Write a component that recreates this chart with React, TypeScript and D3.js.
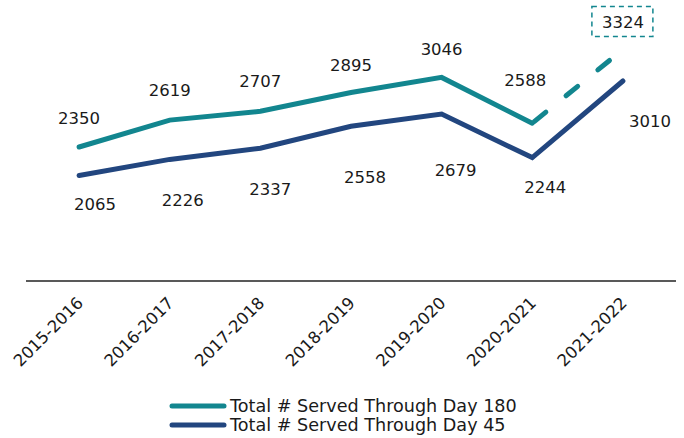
import React from "react";
import * as d3 from "d3";

const categories = ["2015-2016", "2016-2017", "2017-2018", "2018-2019", "2019-2020", "2020-2021", "2021-2022"];
const day180 = [2350, 2619, 2707, 2895, 3046, 2588, 3324];
const day45 = [2065, 2226, 2337, 2558, 2679, 2244, 3010];
const seriesNames = ["Total # Served Through Day 180", "Total # Served Through Day 45"];

const W = 684;
const H = 438;
const TEAL = "#12868f";
const NAVY = "#22467f";
const FONT = "'DejaVu Sans', sans-serif";

// label offsets (styling) relative to each point
const tealOff = [[0, -23], [0, -24], [0, -24], [0, -22], [0, -22], [-7, -37], [0, 0]];
const navyOff = [[16, 34], [13, 47], [10, 47], [14, 57], [14, 62], [13, 35], [27, 46]];

export default function App() {
  const x = d3.scalePoint<string>().domain(categories).range([26, 676]).padding(0.586);
  const y = d3.scaleLinear().domain([1000, 3500]).range([282, 32]);
  const line = d3.line<number>().x((_, i) => x(categories[i])!).y((v) => y(v));

  const tealSolid = line(day180.slice(0, 6))!;
  const lastA = day180[5];
  const lastB = day180[6];
  const dashPath = `M${x(categories[5])},${y(lastA)}L${x(categories[6])},${y(lastB)}`;
  const navyPath = line(day45)!;

  const lx = x(categories[6])!;
  const ly = y(day180[6]);

  return (
    <svg width={W} height={H} style={{ position: "absolute", left: 0, top: 0, background: "#fff" }} fontFamily={FONT}>
      <line x1={26} x2={676} y1={281} y2={281} stroke="#222" strokeWidth={1.6} />
      <path d={tealSolid} fill="none" stroke={TEAL} strokeWidth={5} strokeLinecap="round" strokeLinejoin="miter" />
      <path d={dashPath} fill="none" stroke={TEAL} strokeWidth={5} strokeLinecap="round" strokeDasharray="15,26" strokeDashoffset={-2.5} />
      <path d={navyPath} fill="none" stroke={NAVY} strokeWidth={5} strokeLinecap="round" strokeLinejoin="miter" />

      {day180.map((v, i) =>
        i < 6 ? (
          <text key={"t" + i} x={x(categories[i])! + tealOff[i][0]} y={y(v) + tealOff[i][1]} textAnchor="middle" fontSize={16.5} fill="#1a1a1a">
            {v}
          </text>
        ) : null
      )}
      <rect x={lx - 31} y={ly - 43} width={61} height={30} fill="none" stroke={TEAL} strokeWidth={1.5} strokeDasharray="5,4" />
      <text x={lx} y={ly - 22} textAnchor="middle" fontSize={16.5} fill="#1a1a1a">
        {day180[6]}
      </text>

      {day45.map((v, i) => (
        <text key={"n" + i} x={x(categories[i])! + navyOff[i][0]} y={y(v) + navyOff[i][1]} textAnchor="middle" fontSize={16.5} fill="#1a1a1a">
          {v}
        </text>
      ))}

      {categories.map((c) => (
        <text key={c} transform={`translate(${x(c)! + 5},${304}) rotate(-45)`} textAnchor="end" fontSize={16.5} fill="#1a1a1a">
          {c}
        </text>
      ))}

      {seriesNames.map((n, i) => (
        <g key={n} transform={`translate(0,${406 + i * 19})`}>
          <line x1={172} x2={224} y1={0} y2={0} stroke={i === 0 ? TEAL : NAVY} strokeWidth={5} strokeLinecap="round" />
          <text x={230} y={6} fontSize={17.6} fill="#1a1a1a">
            {n}
          </text>
        </g>
      ))}
    </svg>
  );
}
